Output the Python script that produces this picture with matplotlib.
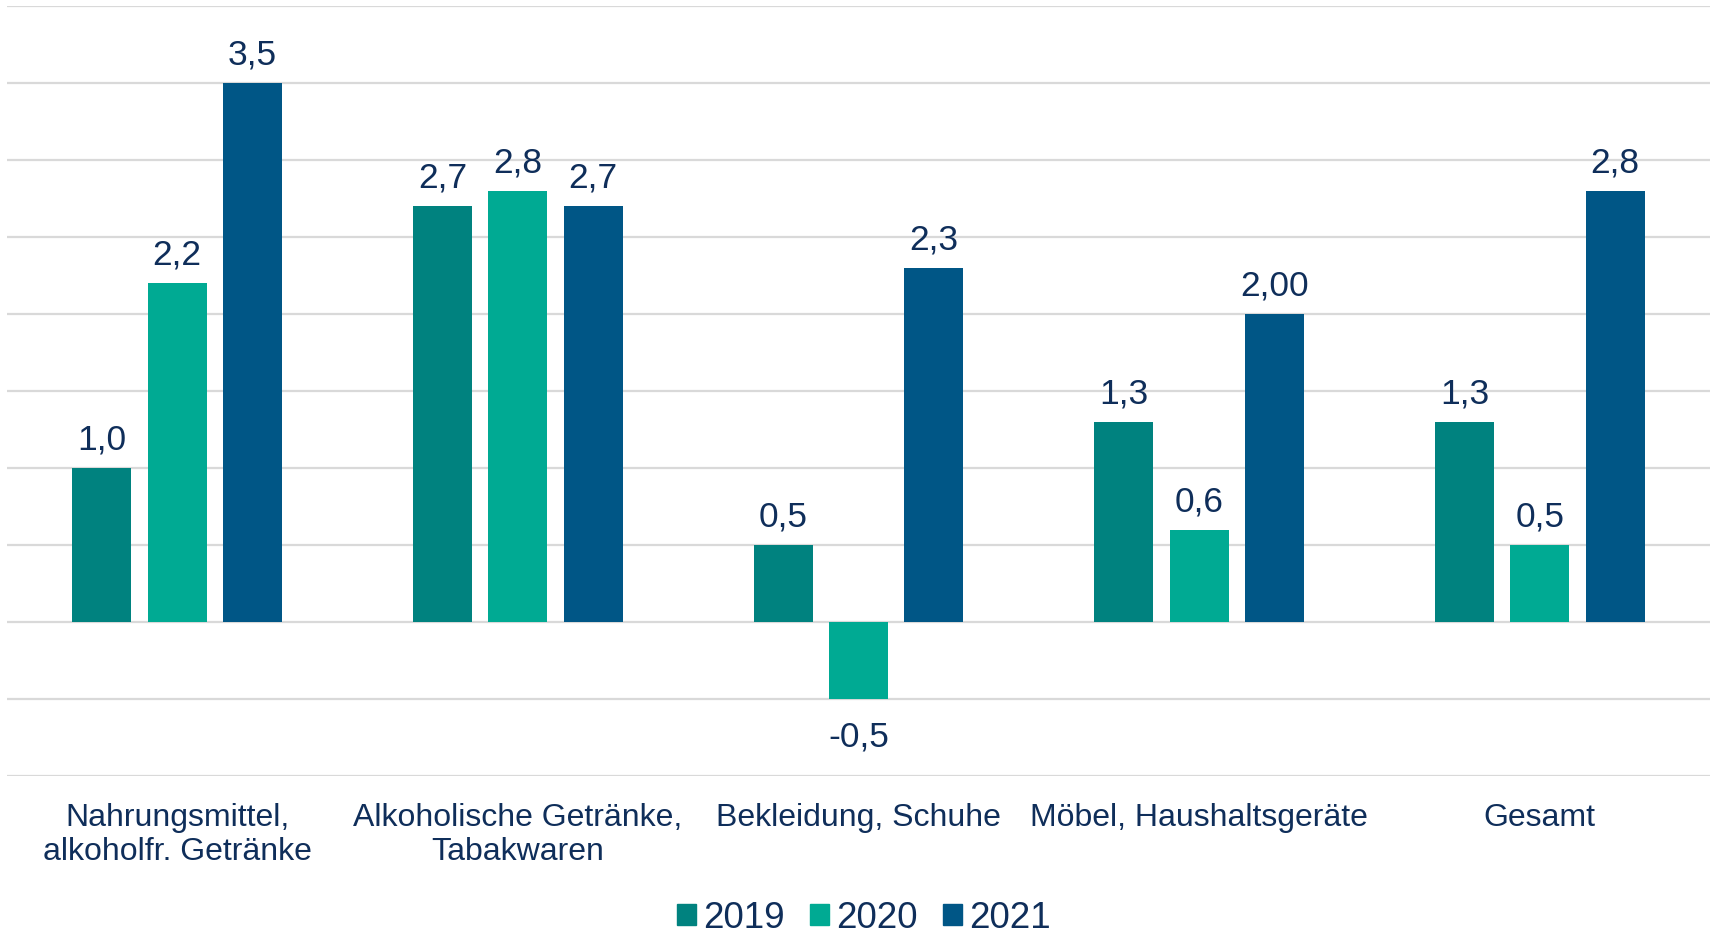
import matplotlib.pyplot as plt
import numpy as np
from matplotlib.patches import Patch

plt.rcParams['font.family'] = ['Liberation Sans', 'DejaVu Sans']

# data
categories = ['Nahrungsmittel,\nalkoholfr. Getränke', 'Alkoholische Getränke,\nTabakwaren',
              'Bekleidung, Schuhe', 'Möbel, Haushaltsgeräte', 'Gesamt']
years = ['2019', '2020', '2021']
v2019 = [1.0, 2.7, 0.5, 1.3, 1.3]
v2020 = [2.2, 2.8, -0.5, 0.6, 0.5]
v2021 = [3.5, 2.7, 2.3, 2.0, 2.8]
lab2019 = ['1,0', '2,7', '0,5', '1,3', '1,3']
lab2020 = ['2,2', '2,8', '-0,5', '0,6', '0,5']
lab2021 = ['3,5', '2,7', '2,3', '2,00', '2,8']

colors = ['#00827F', '#00AA93', '#005686']
text_col = '#0F2E5A'

fig = plt.figure(figsize=(17.11, 9.34), dpi=100)
ax = fig.add_axes([0.004, 0.169, 0.9955, 0.8246])

x = np.arange(len(categories))
width = 0.173
step = 0.221

series = [(v2019, lab2019), (v2020, lab2020), (v2021, lab2021)]
for i, (vals, labs) in enumerate(series):
    xs = x + (i - 1) * step
    ax.bar(xs, vals, width, color=colors[i], zorder=3)
    for xx, v, l in zip(xs, vals, labs):
        off = 20 if v >= 0 else -27
        ax.annotate(l, (xx, v), xytext=(0, off), textcoords='offset points',
                    ha='center', va='center', fontsize=25.5, color=text_col)

ax.set_xlim(-0.5, 4.5)
ax.set_ylim(-1.0, 4.0)
ax.set_yticks(np.arange(-1.0, 4.01, 0.5))
ax.yaxis.grid(True, color='#D9D9D9', linewidth=1.6, zorder=0)
ax.tick_params(axis='y', left=False, labelleft=False)
ax.tick_params(axis='x', length=0, pad=19)
ax.set_xticks(x)
ax.set_xticklabels(categories, fontsize=23, color=text_col, linespacing=1.2)
for s in ax.spines.values():
    s.set_visible(False)

handles = [Patch(color=c) for c in colors]
fig.legend(handles, years, loc='center', bbox_to_anchor=(0.505, 0.017),
           ncol=3, frameon=False, fontsize=26.5, labelcolor=text_col,
           handlelength=0.5, handleheight=0.5, handletextpad=0.2, columnspacing=0.7)

fig.savefig('out.png', dpi=100)
